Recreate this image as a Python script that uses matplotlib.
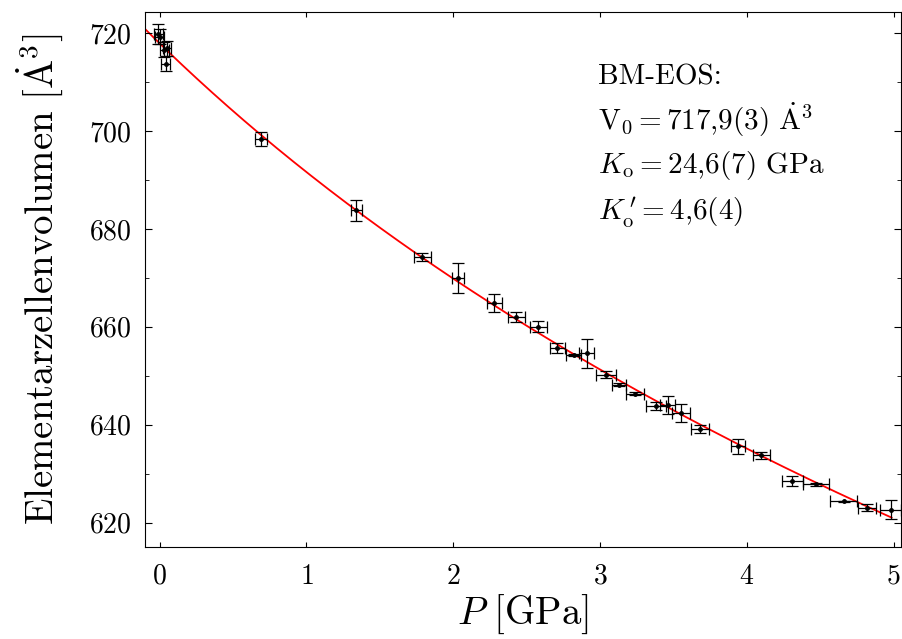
import numpy as np
import matplotlib
matplotlib.use("Agg")
import matplotlib.pyplot as plt
from matplotlib.ticker import MultipleLocator

plt.rcParams['font.family'] = 'serif'
plt.rcParams['font.serif'] = ['cmr10', 'DejaVu Serif']
plt.rcParams['mathtext.fontset'] = 'cm'
plt.rcParams['axes.formatter.use_mathtext'] = True

# Messpunkte
druck = [-0.01, 0.00, 0.03, 0.05, 0.04, 0.69, 1.34, 1.79, 2.03, 2.28, 2.43, 2.58,
         2.71, 2.82, 2.91, 3.04, 3.13, 3.24, 3.38, 3.46, 3.55, 3.68, 3.94, 4.10,
         4.31, 4.47, 4.66, 4.82, 4.98]
volumen = [719.8, 719.3, 716.6, 716.9, 713.8, 698.4, 683.8, 674.3, 670.0, 664.9,
           662.0, 660.0, 655.6, 654.3, 654.6, 650.2, 648.2, 646.3, 643.8, 644.0,
           642.4, 639.1, 635.6, 633.7, 628.5, 627.8, 624.3, 623.0, 622.6]
druck_err = [0.03, 0.03, 0.03, 0.03, 0.03, 0.04, 0.04, 0.06, 0.04, 0.05, 0.06, 0.06,
             0.05, 0.05, 0.05, 0.07, 0.05, 0.06, 0.07, 0.05, 0.06, 0.06, 0.05, 0.06,
             0.07, 0.09, 0.09, 0.06, 0.07]
volumen_err = [2.0, 1.5, 1.5, 1.5, 1.5, 1.4, 2.1, 0.8, 3.1, 1.9, 1.0, 1.1,
               1.0, 0.2, 3.0, 0.7, 0.3, 0.3, 0.9, 1.8, 1.8, 0.8, 1.5, 0.7,
               1.0, 0.3, 0.1, 0.7, 1.9]

# BM-EOS Parameter
V0 = 717.9
K0 = 24.6
K0_strich = 4.6

# Birch-Murnaghan 3. Ordnung, ueber V parametrisiert
V_fit = np.linspace(621.0, 723.5, 400)
f = (V0 / V_fit) ** (2.0 / 3.0)
P_fit = 1.5 * K0 * ((V0 / V_fit) ** (7.0 / 3.0) - (V0 / V_fit) ** (5.0 / 3.0)) \
    * (1 + 0.75 * (K0_strich - 4) * (f - 1))
sel = P_fit <= 5.0

fig = plt.figure(figsize=(9.02, 6.39), dpi=100)
ax = fig.add_axes([0.1608, 0.144, 0.838, 0.837])

ax.plot(P_fit[sel], V_fit[sel], color='red', lw=1.3, zorder=1)
ax.errorbar(druck, volumen, xerr=druck_err, yerr=volumen_err, fmt='o', color='black',
            ms=2.5, ecolor='black', elinewidth=0.9, capsize=4, capthick=0.9, zorder=2)

ax.set_xlim(-0.1, 5.05)
ax.set_ylim(615.0, 724.3)
ax.xaxis.set_major_locator(MultipleLocator(1))
ax.yaxis.set_major_locator(MultipleLocator(20))
ax.yaxis.set_minor_locator(MultipleLocator(10))
ax.tick_params(which='both', direction='in', top=True, right=True, labelsize=20)
ax.tick_params(axis='x', which='major', length=3.5, pad=12)
ax.tick_params(axis='y', which='major', length=5, pad=10)
ax.tick_params(axis='y', which='minor', length=3)

ax.set_xlabel(r'$P\ [\mathrm{GPa}]$', fontsize=28, labelpad=2)
ax.set_ylabel(r'$\mathrm{Elementarzellenvolumen}\ [\dot{\mathrm{A}}^3]$', fontsize=28, labelpad=16)

fig.text(0.663, 0.867, 'BM-EOS:', fontsize=21, va='baseline')
fig.text(0.663, 0.797, r'$\mathrm{V}_0 = 717{,}9(3)\ \dot{\mathrm{A}}^3$', fontsize=21, va='baseline')
fig.text(0.663, 0.729, r'$K_\mathrm{o} = 24{,}6(7)\ \mathrm{GPa}$', fontsize=21, va='baseline')
fig.text(0.663, 0.656, r"$K_\mathrm{o}^{\,\prime} = 4{,}6(4)$", fontsize=21, va='baseline')

fig.savefig('out.png', dpi=100)
